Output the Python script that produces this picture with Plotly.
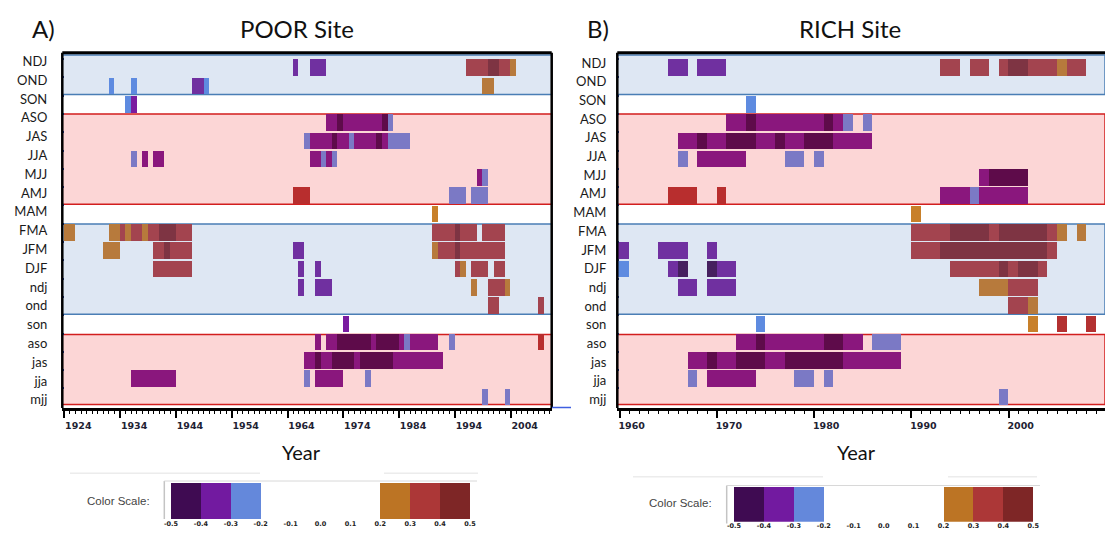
import plotly.graph_objects as go

# season rows, top to bottom (upper case = previous year, lower case = current year)
seasons = ["NDJ", "OND", "SON", "ASO", "JAS", "JJA", "MJJ", "AMJ", "MAM",
           "FMA", "JFM", "DJF", "ndj", "ond", "son", "aso", "jas", "jja", "mjj"]
# background group of each row: b = winter (blue), w = transition (white), p = summer (pink)
row_group = ["b", "b", "w", "p", "p", "p", "p", "p", "w",
             "b", "b", "b", "b", "b", "w", "p", "p", "p", "p"]

# significant correlation windows: (season, first year, end year, r class)
poor_segments = [
    ("NDJ", 1965, 1966, -0.35), ("NDJ", 1968, 1971, -0.35), ("NDJ", 1996, 2000, 0.35),
    ("NDJ", 2000, 2002, 0.45), ("NDJ", 2002, 2004, 0.35), ("NDJ", 2004, 2005, 0.25),
    ("OND", 1932, 1933, -0.25), ("OND", 1936, 1937, -0.25), ("OND", 1947, 1949, -0.35),
    ("OND", 1949, 1950, -0.25), ("OND", 1999, 2001, 0.25),
    ("SON", 1935, 1936, -0.25), ("SON", 1936, 1937, -0.35),
    ("ASO", 1971, 1973, -0.35), ("ASO", 1973, 1974, -0.45), ("ASO", 1974, 1981, -0.35),
    ("ASO", 1981, 1982, -0.45), ("ASO", 1982, 1983, -0.25),
    ("JAS", 1967, 1968, -0.25), ("JAS", 1968, 1972, -0.35), ("JAS", 1972, 1973, -0.45),
    ("JAS", 1973, 1975, -0.35), ("JAS", 1975, 1976, -0.25), ("JAS", 1976, 1980, -0.35),
    ("JAS", 1980, 1981, -0.45), ("JAS", 1981, 1982, -0.35), ("JAS", 1982, 1986, -0.25),
    ("JJA", 1936, 1937, -0.25), ("JJA", 1938, 1939, -0.35), ("JJA", 1940, 1942, -0.35),
    ("JJA", 1968, 1970, -0.35), ("JJA", 1970, 1971, -0.25), ("JJA", 1971, 1972, -0.35),
    ("JJA", 1972, 1973, -0.25),
    ("MJJ", 1998, 1999, -0.35), ("MJJ", 1999, 2000, -0.25),
    ("AMJ", 1965, 1968, 0.35), ("AMJ", 1993, 1996, -0.25), ("AMJ", 1997, 2000, -0.25),
    ("MAM", 1990, 1991, 0.25),
    ("FMA", 1924, 1926, 0.25), ("FMA", 1932, 1934, 0.25), ("FMA", 1934, 1935, 0.35),
    ("FMA", 1935, 1936, 0.25), ("FMA", 1936, 1938, 0.35), ("FMA", 1938, 1939, 0.25),
    ("FMA", 1939, 1941, 0.35), ("FMA", 1941, 1944, 0.45), ("FMA", 1944, 1947, 0.35),
    ("FMA", 1990, 1994, 0.35), ("FMA", 1994, 1995, 0.45), ("FMA", 1995, 1998, 0.35),
    ("FMA", 1999, 2003, 0.35),
    ("JFM", 1931, 1934, 0.25), ("JFM", 1940, 1942, 0.35), ("JFM", 1942, 1943, 0.45),
    ("JFM", 1943, 1947, 0.35), ("JFM", 1965, 1967, -0.35), ("JFM", 1990, 1991, 0.25),
    ("JFM", 1991, 1994, 0.35), ("JFM", 1994, 1995, 0.45), ("JFM", 1995, 2003, 0.35),
    ("DJF", 1940, 1947, 0.35), ("DJF", 1966, 1967, -0.35), ("DJF", 1969, 1970, -0.35),
    ("DJF", 1994, 1995, 0.35), ("DJF", 1995, 1996, 0.25), ("DJF", 1997, 2000, 0.35),
    ("DJF", 2001, 2003, 0.35),
    ("ndj", 1966, 1967, -0.35), ("ndj", 1969, 1972, -0.35), ("ndj", 1997, 1998, 0.25),
    ("ndj", 2000, 2003, 0.35), ("ndj", 2003, 2004, 0.25),
    ("ond", 2000, 2002, 0.35), ("ond", 2009, 2010, 0.35),
    ("son", 1974, 1975, -0.35),
    ("aso", 1969, 1970, -0.35), ("aso", 1971, 1973, -0.35), ("aso", 1973, 1979, -0.45),
    ("aso", 1979, 1980, -0.35), ("aso", 1980, 1984, -0.45), ("aso", 1984, 1985, -0.35),
    ("aso", 1985, 1986, -0.25), ("aso", 1986, 1991, -0.35), ("aso", 1993, 1994, -0.25),
    ("aso", 2009, 2010, 0.35),
    ("jas", 1967, 1969, -0.35), ("jas", 1969, 1970, -0.45), ("jas", 1970, 1972, -0.35),
    ("jas", 1972, 1976, -0.45), ("jas", 1976, 1977, -0.35), ("jas", 1977, 1983, -0.45),
    ("jas", 1983, 1992, -0.35),
    ("jja", 1936, 1944, -0.35), ("jja", 1967, 1968, -0.25), ("jja", 1969, 1974, -0.35),
    ("jja", 1978, 1979, -0.25),
    ("mjj", 1999, 2000, -0.25), ("mjj", 2003, 2004, -0.25),
]

rich_segments = [
    ("NDJ", 1965, 1967, -0.35), ("NDJ", 1968, 1971, -0.35), ("NDJ", 1993, 1995, 0.35),
    ("NDJ", 1996, 1998, 0.35), ("NDJ", 1999, 2000, 0.35), ("NDJ", 2000, 2002, 0.45),
    ("NDJ", 2002, 2005, 0.35), ("NDJ", 2005, 2006, 0.25), ("NDJ", 2006, 2008, 0.35),
    ("SON", 1973, 1974, -0.25),
    ("ASO", 1971, 1973, -0.35), ("ASO", 1973, 1974, -0.45), ("ASO", 1974, 1981, -0.35),
    ("ASO", 1981, 1982, -0.45), ("ASO", 1982, 1983, -0.35), ("ASO", 1983, 1984, -0.25),
    ("ASO", 1985, 1986, -0.25),
    ("JAS", 1966, 1968, -0.35), ("JAS", 1968, 1969, -0.45), ("JAS", 1969, 1971, -0.35),
    ("JAS", 1971, 1974, -0.45), ("JAS", 1974, 1976, -0.35), ("JAS", 1976, 1977, -0.45),
    ("JAS", 1977, 1979, -0.35), ("JAS", 1979, 1982, -0.45), ("JAS", 1982, 1986, -0.35),
    ("JJA", 1966, 1967, -0.25), ("JJA", 1968, 1973, -0.35), ("JJA", 1977, 1979, -0.25),
    ("JJA", 1980, 1981, -0.25),
    ("MJJ", 1997, 1998, -0.35), ("MJJ", 1998, 2002, -0.45),
    ("AMJ", 1965, 1968, 0.35), ("AMJ", 1970, 1971, 0.35), ("AMJ", 1993, 1996, -0.35),
    ("AMJ", 1996, 1997, -0.25), ("AMJ", 1997, 2002, -0.35),
    ("MAM", 1990, 1991, 0.25),
    ("FMA", 1990, 1994, 0.35), ("FMA", 1994, 1998, 0.45), ("FMA", 1998, 1999, 0.35),
    ("FMA", 1999, 2004, 0.45), ("FMA", 2004, 2005, 0.35), ("FMA", 2005, 2006, 0.25),
    ("FMA", 2007, 2008, 0.25),
    ("JFM", 1959.8, 1961, -0.35), ("JFM", 1964, 1967, -0.35), ("JFM", 1969, 1970, -0.35),
    ("JFM", 1990, 1993, 0.35), ("JFM", 1993, 2004, 0.45), ("JFM", 2004, 2005, 0.35),
    ("DJF", 1959.8, 1961, -0.25), ("DJF", 1965, 1966, -0.35), ("DJF", 1966, 1967, -0.45),
    ("DJF", 1969, 1970, -0.45), ("DJF", 1970, 1972, -0.35), ("DJF", 1994, 1999, 0.35),
    ("DJF", 1999, 2000, 0.45), ("DJF", 2000, 2001, 0.35), ("DJF", 2001, 2003, 0.45),
    ("DJF", 2003, 2004, 0.35),
    ("ndj", 1966, 1968, -0.35), ("ndj", 1969, 1972, -0.35), ("ndj", 1997, 2000, 0.25),
    ("ndj", 2000, 2003, 0.35),
    ("ond", 2000, 2002, 0.35), ("ond", 2002, 2003, 0.25),
    ("son", 1974, 1975, -0.25), ("son", 2002, 2003, 0.25), ("son", 2005, 2006, 0.35),
    ("son", 2008, 2009, 0.35),
    ("aso", 1972, 1974, -0.35), ("aso", 1974, 1975, -0.45), ("aso", 1975, 1981, -0.35),
    ("aso", 1981, 1983, -0.45), ("aso", 1983, 1985, -0.35), ("aso", 1986, 1989, -0.25),
    ("jas", 1967, 1969, -0.35), ("jas", 1969, 1970, -0.45), ("jas", 1970, 1972, -0.35),
    ("jas", 1972, 1975, -0.45), ("jas", 1975, 1977, -0.35), ("jas", 1977, 1983, -0.45),
    ("jas", 1983, 1989, -0.35),
    ("jja", 1967, 1968, -0.25), ("jja", 1969, 1974, -0.35), ("jja", 1978, 1980, -0.25),
    ("jja", 1981, 1982, -0.25),
    ("mjj", 1999, 2000, -0.25),
]

# colour scale legend
scale_bins = [-0.45, -0.35, -0.25, 0.25, 0.35, 0.45]
scale_colors = ["#3F0B52", "#721AA0", "#6488DB", "#BC7424", "#AC3737", "#7E2626"]
scale_ticks = [-0.5, -0.4, -0.3, -0.2, -0.1, 0.0, 0.1, 0.2, 0.3, 0.4, 0.5]

# how each r class looks on each background
palette = {
    "p": {-0.45: "#5E0B4A", -0.35: "#8A177D", -0.25: "#7B79C5",
          0.25: "#C47A30", 0.35: "#B82E2E", 0.45: "#8E2530"},
    "b": {-0.45: "#46205F", -0.35: "#7030A0", -0.25: "#5E8BE0",
          0.25: "#B77A3C", 0.35: "#A3444F", 0.45: "#7E3443"},
    "w": {-0.45: "#400C50", -0.35: "#7A1CA0", -0.25: "#5E8BE0",
          0.25: "#C8802A", 0.35: "#B33131", 0.45: "#7E2A28"},
}

W, H = 1105, 534


def fx(px):
    return px / W


def fy(py):
    return 1 - py / H


fig = go.Figure()

panels = [
    dict(seg=poor_segments, xa="x", ya="y", la="y3", xr=[1923.64, 2011.35],
         dom=[fx(62.3), fx(551.7)], tick0=1924, lab=(61.5, 18.8), stand=14, shift=14,
         year_x=302),
    dict(seg=rich_segments, xa="x2", ya="y2", la="y4", xr=[1959.75, 2009.9],
         dom=[fx(617.3), 1.0], tick0=1960, lab=(63.0, 18.7), stand=10, shift=12,
         year_x=856),
]

Y_TOP, Y_BOT = 52.7, 408.1
BAR_C0, BAR_PITCH = 67.35, 18.3
yr_bar = [(Y_BOT - BAR_C0) / BAR_PITCH, (Y_TOP - BAR_C0) / BAR_PITCH]

for i, p in enumerate(panels):
    rows = [seasons.index(s[0]) for s in p["seg"]]
    fig.add_trace(go.Bar(
        orientation="h", y=rows,
        base=[s[1] for s in p["seg"]],
        x=[s[2] - s[1] for s in p["seg"]],
        width=0.91,
        marker=dict(color=[palette[row_group[r]][s[3]] for r, s in zip(rows, p["seg"])],
                    line=dict(width=0)),
        xaxis=p["xa"], yaxis=p["ya"], showlegend=False, hoverinfo="skip"))
    # invisible trace to carry the season label axis
    fig.add_trace(go.Scatter(x=[p["xr"][0]], y=[0], mode="markers",
                             marker=dict(opacity=0), xaxis=p["xa"], yaxis=p["la"],
                             showlegend=False, hoverinfo="skip"))

    sfx = "" if i == 0 else "2"
    xref, yref = "x" + sfx, "y" + sfx
    # background groups
    for y0, y1, fill, edge in [(-0.675, 1.48, "#DEE7F3", "#4A7EB5"),
                               (2.55, 7.48, "#FCD6D6", "#D21E1E"),
                               (8.56, 13.49, "#DEE7F3", "#4A7EB5"),
                               (14.6, 18.42, "#FCD6D6", "#D21E1E")]:
        fig.add_shape(type="rect", xref=xref + " domain", yref=yref, x0=0, x1=1,
                      y0=y0, y1=y1, fillcolor=fill, line=dict(color=edge, width=1.5),
                      layer="below")
    # black frame
    fig.add_shape(type="line", xref=xref + " domain", yref=yref + " domain",
                  x0=0, x1=1, y0=1, y1=1, line=dict(color="black", width=3))
    fig.add_shape(type="line", xref=xref + " domain", yref=yref + " domain",
                  x0=0, x1=0, y0=0, y1=1, line=dict(color="black", width=2.5))
    if i == 0:
        fig.add_shape(type="line", xref=xref + " domain", yref=yref + " domain",
                      x0=1, x1=1, y0=0, y1=1, line=dict(color="black", width=2.5),
                      layer="below")

    lab0, labp = p["lab"]
    yr_lab = [(Y_BOT - lab0) / labp, (Y_TOP - lab0) / labp]
    fig.layout["xaxis" + sfx] = dict(
        domain=p["dom"], range=p["xr"], anchor=yref, automargin=False,
        tickmode="linear", tick0=p["tick0"], dtick=10, ticks="outside", ticklen=7,
        tickwidth=2, tickcolor="black", showline=True, linewidth=2.5,
        linecolor="black", showgrid=False, zeroline=False,
        ticklabelshift=p["shift"],
        tickfont=dict(family="DejaVu Sans", size=9.5, color="#222233", weight="bold"),
        minor=dict(dtick=1, tick0=p["tick0"], ticks="outside", ticklen=3,
                   tickwidth=1, tickcolor="black"))
    fig.layout["yaxis" + sfx] = dict(
        domain=[fy(Y_BOT), fy(Y_TOP)], range=yr_bar, anchor=xref, automargin=False,
        showgrid=False, zeroline=False, showticklabels=False, tickmode="array",
        tickvals=[k - 0.455 for k in range(len(seasons))], ticks="inside",
        ticklen=2, tickwidth=2, tickcolor="#1F3A93")
    fig.layout["yaxis" + str(3 + i)] = dict(
        domain=[fy(Y_BOT), fy(Y_TOP)], range=yr_lab, overlaying=yref, anchor=xref,
        side="left", automargin=False, showgrid=False, zeroline=False,
        tickmode="array", tickvals=list(range(len(seasons))), ticktext=seasons,
        ticks="", ticklabelstandoff=p["stand"],
        tickfont=dict(family="Lato", size=13, color="#1A1A1A"))
    fig.add_annotation(text="Year", x=fx(p["year_x"]), y=fy(452), xref="paper",
                       yref="paper", showarrow=False, xanchor="center",
                       yanchor="middle", font=dict(family="Lato", size=20, color="#111"))

# colour scale legends
legends = [
    dict(xa="x3", ya="y5", xd=[fx(171), fx(470)], yd=[fy(519), fy(482.7)]),
    dict(xa="x4", ya="y6", xd=[fx(734), fx(1033.3)], yd=[fy(521.7), fy(486.7)]),
]
for j, lg in enumerate(legends):
    fig.add_trace(go.Bar(x=scale_bins, y=[1] * len(scale_bins), width=0.1,
                         marker=dict(color=scale_colors, line=dict(width=0)),
                         xaxis=lg["xa"], yaxis=lg["ya"], showlegend=False,
                         hoverinfo="skip"))
    n = 3 + j
    fig.layout["xaxis" + str(n)] = dict(
        domain=lg["xd"], range=[-0.5, 0.5], anchor="y" + str(n + 2),
        automargin=False, tickmode="array", tickvals=scale_ticks,
        ticktext=[f"{v:.1f}" for v in scale_ticks], ticks="", showgrid=False,
        zeroline=False, showline=False, ticklabelstandoff=-1,
        tickfont=dict(family="DejaVu Sans", size=6.5, color="#222", weight="bold"))
    fig.layout["yaxis" + str(n + 2)] = dict(
        domain=lg["yd"], range=[0, 1], anchor="x" + str(n), visible=False,
        automargin=False)

for (x0, y0, x1) in [(164.3, 481, 477), (726.7, 485.5, 1040)]:
    fig.add_shape(type="line", xref="paper", yref="paper", x0=fx(x0), x1=fx(x0),
                  y0=fy(y0), y1=fy(y0 + 38), line=dict(color="#C4C4C4", width=1.5))
    fig.add_shape(type="line", xref="paper", yref="paper", x0=fx(x0), x1=fx(x1),
                  y0=fy(y0), y1=fy(y0), line=dict(color="#D8D8D8", width=1))
for (x0, x1, y) in [(70, 260, 473.3), (384, 478, 473.3), (633, 823, 476.7), (948, 1037, 476.7)]:
    fig.add_shape(type="line", xref="paper", yref="paper", x0=fx(x0), x1=fx(x1),
                  y0=fy(y), y1=fy(y), line=dict(color="#ECECEC", width=1.5))

# stray axis line between panels
fig.add_shape(type="line", xref="paper", yref="paper", x0=fx(552), x1=fx(571),
              y0=fy(407.5), y1=fy(407.5), line=dict(color="#3F5FE0", width=1.5))

annots = [
    ("A)", 43.5, 28, 24), ("POOR Site", 297, 28, 24),
    ("B)", 597.5, 28, 24), ("RICH Site", 850, 28, 24),
]
for txt, x, y, s in annots:
    fig.add_annotation(text=txt, x=fx(x), y=fy(y), xref="paper", yref="paper",
                       showarrow=False, xanchor="center", yanchor="middle",
                       font=dict(family="Lato", size=s, color="#111"))
for x, y in [(118.8, 501), (680.8, 503)]:
    fig.add_annotation(text="Color Scale:", x=fx(x), y=fy(y), xref="paper",
                       yref="paper", showarrow=False, xanchor="center",
                       yanchor="middle",
                       font=dict(family="Liberation Sans", size=11.5, color="#444"))

fig.update_layout(
    width=W, height=H, margin=dict(l=0, r=0, t=0, b=0, autoexpand=False),
    paper_bgcolor="white", plot_bgcolor="white", barmode="overlay",
    bargap=0, showlegend=False,
)

# the page's default body margin would push the figure 8px right and down
fig.write_html("out.html", config={"displayModeBar": False},
               post_script="document.body.style.margin='0px';")
